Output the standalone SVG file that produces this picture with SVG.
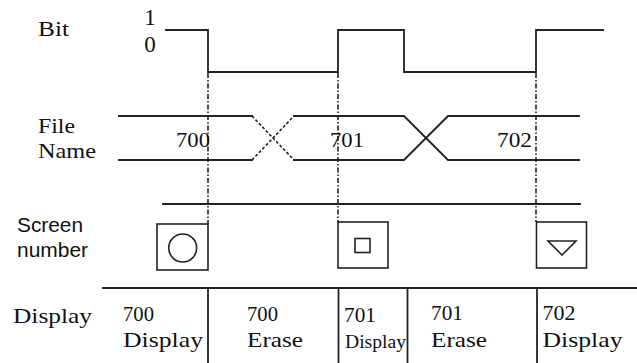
<svg xmlns="http://www.w3.org/2000/svg" width="637" height="363" viewBox="0 0 637 363">
<style>
.ln{fill:none;stroke:#222;stroke-width:1.8;stroke-linecap:square}
.sh{fill:none;stroke:#222;stroke-width:1.6}
.dd{fill:none;stroke:#222;stroke-width:1.6;stroke-dasharray:5 2 1.5 2}
.dt{fill:none;stroke:#222;stroke-width:1.6;stroke-dasharray:3 2}
.sf{font-family:"Liberation Serif","Times New Roman",serif;font-size:22px;fill:#111}
.ss{font-family:"Liberation Sans",Arial,sans-serif;font-size:20px;fill:#111}
</style>
<rect width="637" height="363" fill="#fff"/>
<g id="labels">
<text class="sf" x="38" y="36" textLength="31" lengthAdjust="spacingAndGlyphs">Bit</text>
<text class="sf" x="150" y="25" text-anchor="middle" style="font-size:23px">1</text>
<text class="sf" x="150" y="51.5" text-anchor="middle" style="font-size:23px">0</text>
<text class="sf" x="38" y="133" textLength="37" lengthAdjust="spacingAndGlyphs">File</text>
<text class="sf" x="38" y="158" textLength="58" lengthAdjust="spacingAndGlyphs">Name</text>
<text class="ss" x="17" y="232" textLength="66" lengthAdjust="spacingAndGlyphs">Screen</text>
<text class="ss" x="17" y="257" textLength="71" lengthAdjust="spacingAndGlyphs">number</text>
<text class="sf" x="13" y="322.5" textLength="79" lengthAdjust="spacingAndGlyphs">Display</text>
</g>
<g id="connectors">
<polyline class="ln" points="166,30 208,30 208,72 338,72 338,30 404,30 404,72 536,72 536,30 603,30"/>
<polyline class="ln" points="119,116 252,116"/>
<polyline class="ln" points="119,160 252,160"/>
<line class="dt" x1="252" y1="116" x2="294" y2="160"/>
<line class="dt" x1="252" y1="160" x2="294" y2="116"/>
<polyline class="ln" points="294,116 404,116 448,160 579,160"/>
<polyline class="ln" points="294,160 404,160 448,116 579,116"/>
<line class="ln" x1="163" y1="204" x2="580" y2="204"/>
<line class="dd" x1="208" y1="73" x2="208" y2="224"/>
<line class="dd" x1="338" y1="73" x2="338" y2="222"/>
<line class="dd" x1="536" y1="73" x2="536" y2="222"/>
<line class="ln" x1="103" y1="288" x2="637" y2="288"/>
<line class="ln" x1="208" y1="288" x2="208" y2="363"/>
<line class="ln" x1="338.5" y1="288" x2="338.5" y2="363"/>
<line class="ln" x1="407.5" y1="288" x2="407.5" y2="363"/>
<line class="ln" x1="537" y1="288" x2="537" y2="363"/>
</g>
<g id="file-700"><text class="sf" x="193" y="146.5" text-anchor="middle" textLength="34" lengthAdjust="spacingAndGlyphs">700</text></g>
<g id="file-701"><text class="sf" x="347" y="146.5" text-anchor="middle" textLength="34" lengthAdjust="spacingAndGlyphs">701</text></g>
<g id="file-702"><text class="sf" x="514.5" y="146.5" text-anchor="middle" textLength="35" lengthAdjust="spacingAndGlyphs">702</text></g>
<g id="screen-700">
<rect class="sh" x="157" y="224" width="51" height="46"/>
<circle class="sh" cx="182.7" cy="248" r="14"/>
</g>
<g id="screen-701">
<rect class="sh" x="338" y="222" width="50" height="46"/>
<rect class="sh" x="355" y="238.5" width="15" height="14"/>
</g>
<g id="screen-702">
<rect class="sh" x="536.5" y="222" width="50" height="46"/>
<polygon class="sh" points="548,241 576,241 562,255"/>
</g>
<g id="disp-700-display">
<text class="sf" x="123" y="321" textLength="31" lengthAdjust="spacingAndGlyphs">700</text>
<text class="sf" x="123" y="346.5" textLength="80" lengthAdjust="spacingAndGlyphs">Display</text>
</g>
<g id="disp-700-erase">
<text class="sf" x="247" y="321" textLength="31" lengthAdjust="spacingAndGlyphs">700</text>
<text class="sf" x="247" y="346.5" textLength="56" lengthAdjust="spacingAndGlyphs">Erase</text>
</g>
<g id="disp-701-display">
<text class="sf" x="344" y="321.5" textLength="32" lengthAdjust="spacingAndGlyphs">701</text>
<text class="sf" x="345" y="348" style="font-size:18px" textLength="61" lengthAdjust="spacingAndGlyphs">Display</text>
</g>
<g id="disp-701-erase">
<text class="sf" x="431" y="319.5" textLength="32" lengthAdjust="spacingAndGlyphs">701</text>
<text class="sf" x="431" y="346.5" textLength="56" lengthAdjust="spacingAndGlyphs">Erase</text>
</g>
<g id="disp-702-display">
<text class="sf" x="542.5" y="320" textLength="33" lengthAdjust="spacingAndGlyphs">702</text>
<text class="sf" x="542.5" y="346.5" textLength="80" lengthAdjust="spacingAndGlyphs">Display</text>
</g>
</svg>
